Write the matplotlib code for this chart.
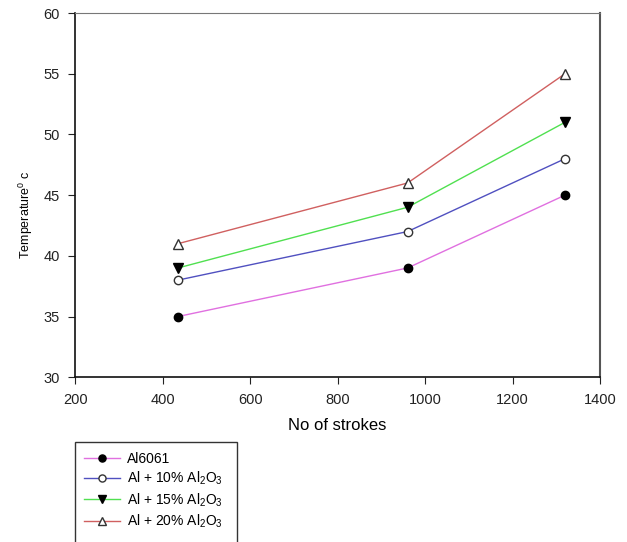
import numpy as np
import matplotlib.pyplot as plt
from matplotlib.patches import Rectangle

plt.rcParams['font.family'] = ['Liberation Sans', 'DejaVu Sans']
plt.rcParams['mathtext.fontset'] = 'custom'
plt.rcParams['mathtext.rm'] = 'Liberation Sans'
plt.rcParams['mathtext.it'] = 'Liberation Sans'

strokes = [435, 960, 1320]
al6061 = [35, 39, 45]
al_10 = [38, 42, 48]
al_15 = [39, 44, 51]
al_20 = [41, 46, 55]

labels = ['Al6061', r'Al + 10% Al$_2$O$_3$', r'Al + 15% Al$_2$O$_3$', r'Al + 20% Al$_2$O$_3$']

fig = plt.figure(figsize=(6.27, 5.42), dpi=100)
ax = fig.add_axes([0.12, 0.304, 0.837, 0.672])

ax.plot(strokes, al6061, color='#e070e0', lw=1, marker='o', ms=6,
        mfc='black', mec='black', label=labels[0])
ax.plot(strokes, al_10, color='#5050c0', lw=1, marker='o', ms=6,
        mfc='white', mec='#333333', label=labels[1])
ax.plot(strokes, al_15, color='#50e050', lw=1, marker='v', ms=7,
        mfc='black', mec='black', label=labels[2])
ax.plot(strokes, al_20, color='#d06060', lw=1, marker='^', ms=7,
        mfc='white', mec='#333333', label=labels[3])

ax.set_xlim(200, 1400)
ax.set_ylim(30, 60)
ax.set_xticks(np.arange(200, 1401, 200))
ax.set_yticks(np.arange(30, 61, 5))
ax.tick_params(direction='out', length=5, labelsize=10.5, colors='#222222')
ax.tick_params(axis='both', pad=6)

for side in ['left', 'bottom']:
    ax.spines[side].set_color('#111111')
    ax.spines[side].set_linewidth(1.2)
ax.spines['top'].set_color('#777777')
ax.spines['right'].set_color('#555555')
ax.spines['right'].set_linewidth(1.5)

ax.set_xlabel('No of strokes', fontsize=12, labelpad=8)
ax.set_ylabel('Temperature$^{0}$ c', fontsize=9)
ax.yaxis.set_label_coords(-0.076, 0.445)

# legend box runs past the bottom edge
fig.patches.append(Rectangle((0.119, -0.02), 0.259, 0.204, transform=fig.transFigure,
                             fill=False, ec='#333333', lw=1))
fig.legend(loc='upper left', bbox_to_anchor=(0.114, 0.19), frameon=False,
           fontsize=10, handlelength=2.6, labelspacing=0.3, handletextpad=0.5,
           markerscale=0.85)

fig.savefig('out.png', dpi=100)
